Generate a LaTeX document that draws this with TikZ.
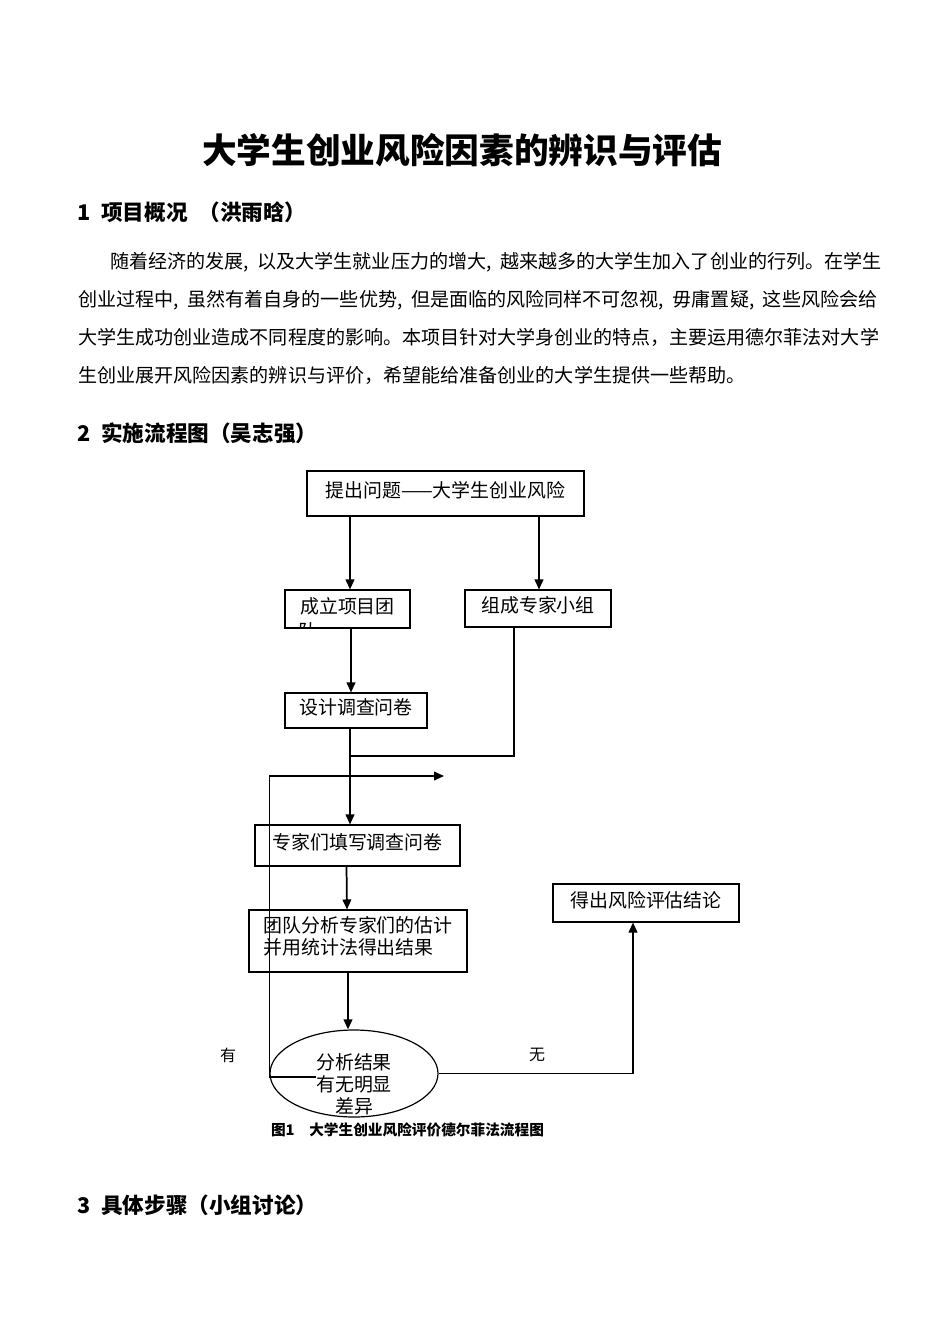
\documentclass[tikz,border=0pt]{standalone}
\usepackage{fontspec}
\setmainfont{Noto Sans CJK SC}
\usepackage{tikz}
\usetikzlibrary{arrows.meta,positioning,calc,shapes.geometric}

\newcommand{\bodyfont}{\fontsize{14.3}{17}\selectfont}
\newcommand{\flowfont}{\fontsize{14.2}{16.5}\selectfont}
\newcommand{\headfont}{\fontsize{16.2}{19}\selectfont\bfseries}
\newcommand{\dou}{,\hspace{0.45em}}
\def\px{0.75pt}

\begin{document}
\begin{tikzpicture}[
  x=0.75pt, y=-0.75pt,
  box/.style={draw, line width=0.8pt, inner sep=0pt, align=center, font=\flowfont, text depth=6pt},
  link/.style={line width=1.3pt, -{Triangle[length=7.5pt,width=6.5pt]}},
  wire/.style={line width=1.3pt},
  hd/.style={anchor=west, inner sep=0pt, font=\headfont},
  para/.style={anchor=west, inner sep=0pt, font=\bodyfont},
  tag/.style={inner sep=0pt, font=\fontsize{12}{14}\selectfont}
]
\useasboundingbox (0,0) rectangle (950,1344);

% ==================== TITLE AND TEXT ====================
\node[font=\fontsize{26}{30}\selectfont\bfseries] (title) at (462,150) {大学生创业风险因素的辨识与评估};

\node[hd] (sec1) at (77,212) {1\enspace 项目概况\enspace （洪雨晗）};

\node[para] (p1) at (110,262) {随着经济的发展\dou 以及大学生就业压力的增大\dou 越来越多的大学生加入了创业的行列。在学生};
\node[para] (p2) at (78,300) {创业过程中\dou 虽然有着自身的一些优势\dou 但是面临的风险同样不可忽视\dou 毋庸置疑\dou 这些风险会给};
\node[para] (p3) at (78,337.5) {大学生成功创业造成不同程度的影响。本项目针对大学身创业的特点，主要运用德尔菲法对大学};
\node[para] (p4) at (78,375) {生创业展开风险因素的辨识与评价，希望能给准备创业的大学生提供一些帮助。};

\node[hd] (sec2) at (77,433) {2\enspace 实施流程图（吴志强）};
\node[hd] (sec3) at (77,1205) {3\enspace 具体步骤（小组讨论）};

% ==================== FLOW CHART ====================
\node[box, minimum width=277*\px, minimum height=45*\px] (ask) at (445.5,493.5) {提出问题——大学生创业风险};
\node[box, minimum width=125*\px, minimum height=38*\px] (team) at (347.5,609) {成立项目团};
\begin{scope}
  \clip (team.south west) rectangle (team.north east);
  \node[inner sep=0pt, font=\flowfont] (team2) at (307.5,631) {队};
\end{scope}
\node[box, minimum width=146*\px, minimum height=37*\px] (expert) at (538,608.5) {组成专家小组};
\node[box, minimum width=142*\px, minimum height=35*\px] (design) at (356,710.5) {设计调查问卷};
\node[box, minimum width=205*\px, minimum height=41*\px] (fill) at (357.5,845.5) {专家们填写调查问卷};
\node[box, minimum width=218*\px, minimum height=62*\px, align=left, text depth=9pt] (stat) at (358,941) {团队分析专家们的估计\\并用统计法得出结果};
\node[box, minimum width=186*\px, minimum height=38*\px] (result) at (646,903) {得出风险评估结论};

\node[ellipse, draw, line width=0.9pt, inner sep=0pt, minimum width=168*\px, minimum height=87*\px] (dec) at (354,1073.5) {};
\node[align=center, inner sep=0pt, font=\flowfont] (dectxt) at (354,1084) {分析结果\\有无明显\\差异};

\node[tag] (yes) at (228,1055) {有};
\node[tag] (no) at (537,1055) {无};

\node[inner sep=0pt, font=\fontsize{11}{13}\selectfont\bfseries] (cap) at (407.5,1130) {图1\quad 大学生创业风险评价德尔菲法流程图};

% connectors
\coordinate (merge) at (350,756);
\coordinate (back) at (444,776);

\draw[link] (ask.south -| merge) -- (team.north -| merge);
\draw[link] (ask.south -| 539,0) -- (expert.north -| 539,0);
\draw[link] (team.south -| 351,0) -- (design.north -| 351,0);
\draw[wire] ($(expert.south)+(-24,0)$) |- (merge);
\draw[link] (design.south -| merge) -- (fill.north -| merge);
\draw[link] ($(fill.south)+(-11,0)$) -- ($(stat.north)+(-11,0)$);
\draw[link] ($(stat.south)+(-10,0)$) -- ($(dec.north)+(-6,0)$);
\draw[link] (dec.east) -| ($(result.south)+(-13,0)$);
\draw[link] ($(dec.west)+(47,3.5)$) -- ($(dec.west)+(0,3.5)$) |- (back);

\end{tikzpicture}
\end{document}
